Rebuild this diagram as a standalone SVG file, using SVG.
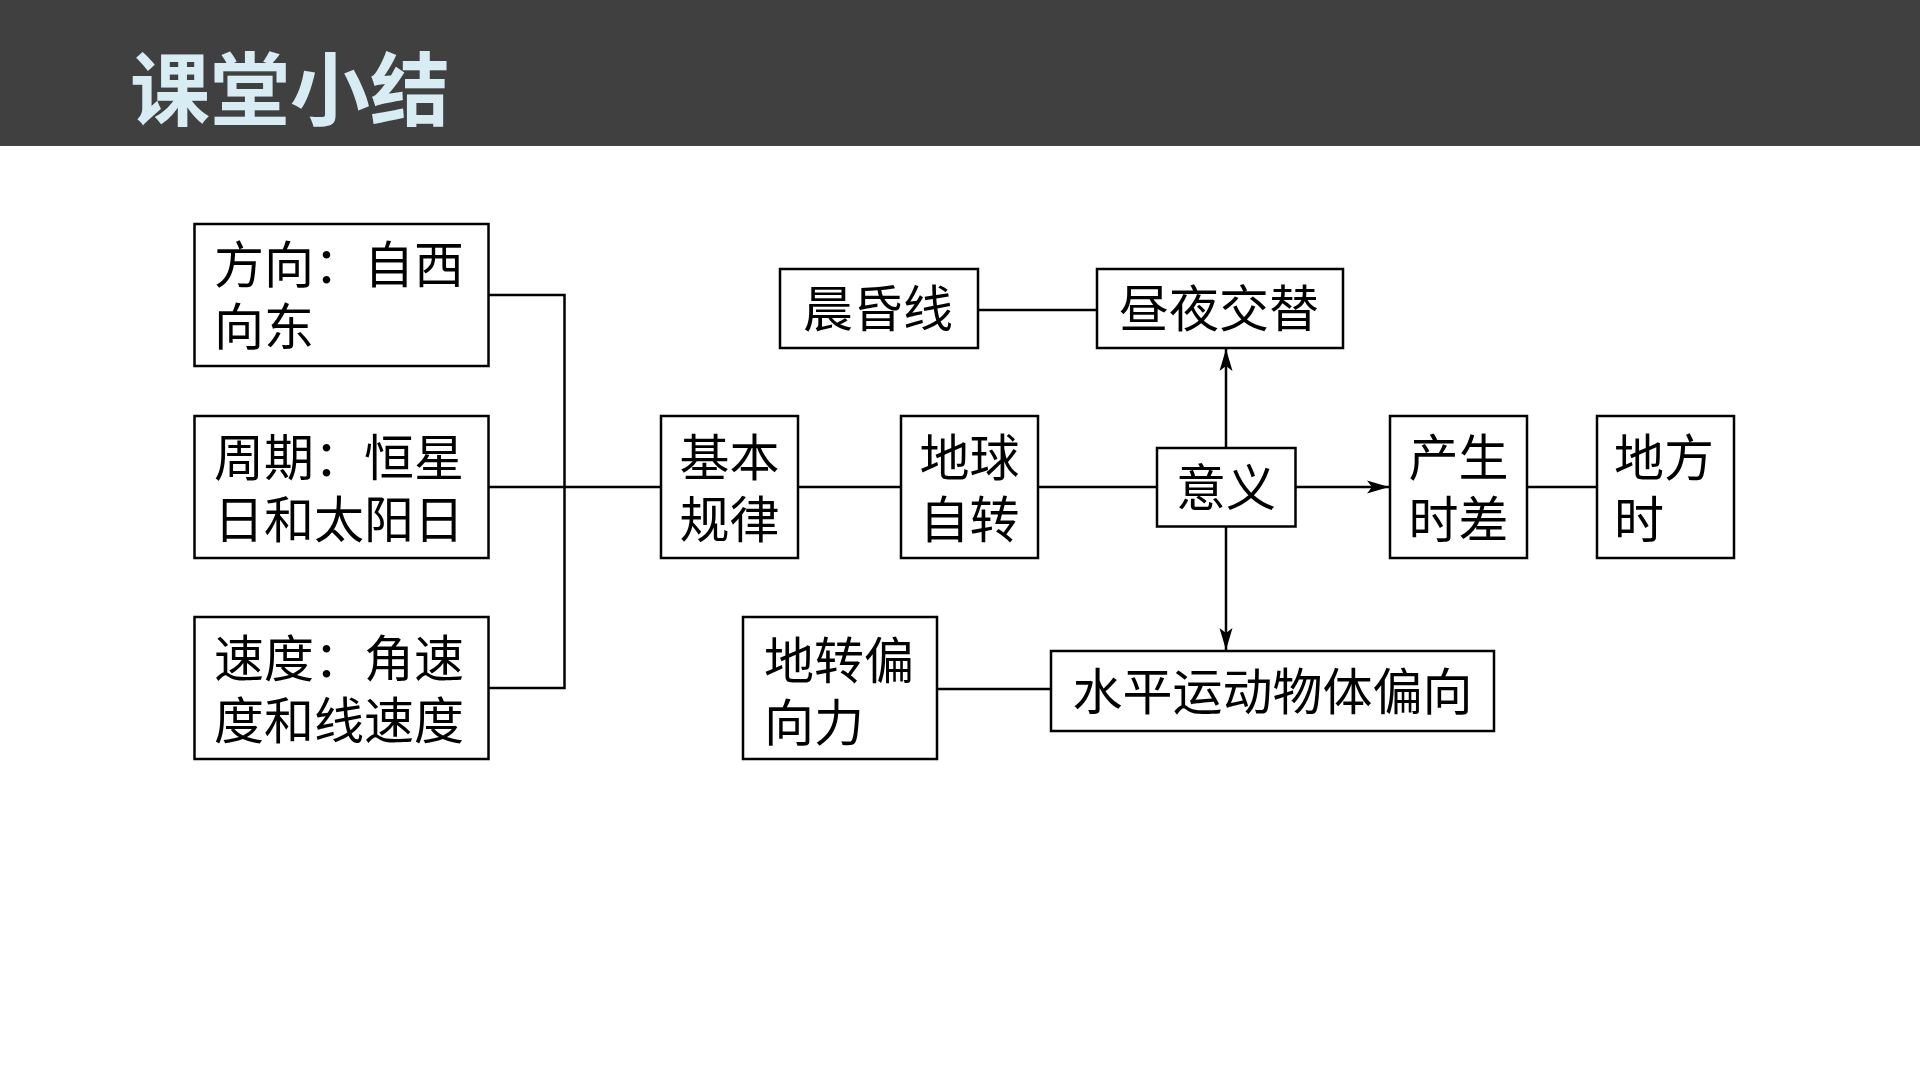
<svg xmlns="http://www.w3.org/2000/svg" width="1920" height="1080" viewBox="0 0 1920 1080">
<defs>
<style>
.box{fill:#fff;stroke:#000;stroke-width:2.5}
.t{font-family:"Noto Sans CJK SC","Liberation Serif",serif;font-size:50px;fill:#000}
.c{text-anchor:middle}
.ln{stroke:#000;stroke-width:2.5;fill:none}
.title{font-family:"Noto Sans CJK SC",sans-serif;font-weight:700;font-size:80px;fill:#D8EDF3}
</style>
<marker id="arr" markerUnits="userSpaceOnUse" markerWidth="24" markerHeight="14" refX="22" refY="7" orient="auto">
<path d="M0,0.5 L22,7 L0,13.5 L5,7 Z" fill="#000"/>
</marker>
</defs>
<rect width="1920" height="1080" fill="#fff"/>
<rect x="0" y="0" width="1920" height="146" fill="#404040"/>
<text class="title" x="130" y="119">课堂小结</text>

<g id="connectors">
<polyline class="ln" points="488.5,295 564.5,295 564.5,688 488.5,688"/>
<line class="ln" x1="488.5" y1="487" x2="661" y2="487"/>
<line class="ln" x1="798" y1="487" x2="901" y2="487"/>
<line class="ln" x1="1038" y1="487" x2="1157" y2="487"/>
<line class="ln" x1="1295.5" y1="487" x2="1389" y2="487" marker-end="url(#arr)"/>
<line class="ln" x1="1527" y1="487" x2="1597" y2="487"/>
<line class="ln" x1="1226" y1="448" x2="1226" y2="349" marker-end="url(#arr)"/>
<line class="ln" x1="1226" y1="526.5" x2="1226" y2="650" marker-end="url(#arr)"/>
<line class="ln" x1="978" y1="310" x2="1097" y2="310"/>
<line class="ln" x1="937" y1="689" x2="1051" y2="689"/>
</g>

<g id="n_direction">
<rect class="box" x="194.5" y="224" width="294" height="142"/>
<text class="t"><tspan x="214" y="283">方向：自西</tspan><tspan x="214" y="345">向东</tspan></text>
</g>
<g id="n_period">
<rect class="box" x="194.5" y="416" width="294" height="142"/>
<text class="t"><tspan x="214" y="476">周期：恒星</tspan><tspan x="214" y="538">日和太阳日</tspan></text>
</g>
<g id="n_speed">
<rect class="box" x="194.5" y="617" width="294" height="142"/>
<text class="t"><tspan x="214" y="677">速度：角速</tspan><tspan x="214" y="739">度和线速度</tspan></text>
</g>
<g id="n_basic">
<rect class="box" x="661" y="416" width="137" height="142"/>
<text class="t c"><tspan x="729.5" y="476">基本</tspan><tspan x="729.5" y="538">规律</tspan></text>
</g>
<g id="n_rotation">
<rect class="box" x="901" y="416" width="137" height="142"/>
<text class="t c"><tspan x="969.5" y="476">地球</tspan><tspan x="969.5" y="538">自转</tspan></text>
</g>
<g id="n_meaning">
<rect class="box" x="1157" y="448" width="138.5" height="78.5"/>
<text class="t c" x="1226" y="506">意义</text>
</g>
<g id="n_timediff">
<rect class="box" x="1390" y="416" width="137" height="142"/>
<text class="t c"><tspan x="1458.5" y="476">产生</tspan><tspan x="1458.5" y="538">时差</tspan></text>
</g>
<g id="n_localtime">
<rect class="box" x="1597" y="416" width="137" height="142"/>
<text class="t"><tspan x="1614" y="476">地方</tspan><tspan x="1614" y="538">时</tspan></text>
</g>
<g id="n_terminator">
<rect class="box" x="780" y="269" width="198" height="79"/>
<text class="t c" x="878" y="327">晨昏线</text>
</g>
<g id="n_daynight">
<rect class="box" x="1097" y="269" width="246" height="79"/>
<text class="t c" x="1219" y="327">昼夜交替</text>
</g>
<g id="n_coriolis">
<rect class="box" x="743" y="617" width="194" height="142"/>
<text class="t"><tspan x="764" y="679">地转偏</tspan><tspan x="764" y="741">向力</tspan></text>
</g>
<g id="n_deflect">
<rect class="box" x="1051" y="651" width="443" height="80"/>
<text class="t c" x="1272.5" y="710">水平运动物体偏向</text>
</g>
</svg>
